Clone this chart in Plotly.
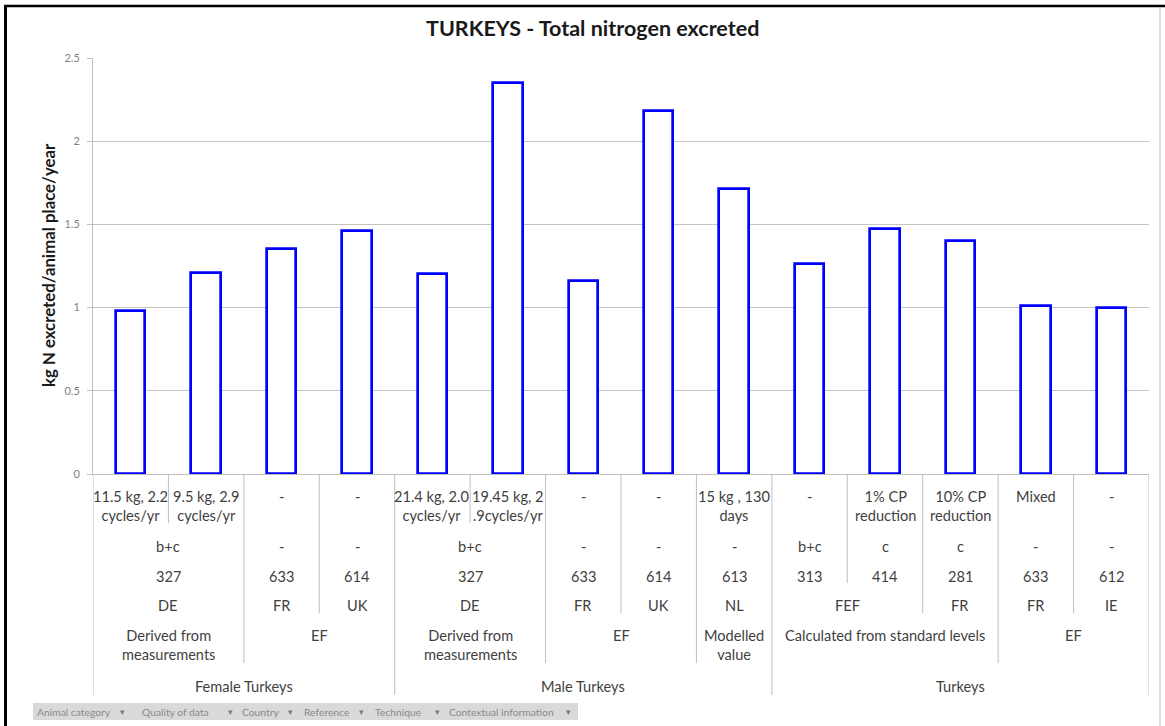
import plotly.graph_objects as go

# ---------------- data ----------------
animal = ["Female Turkeys"] * 4 + ["Male Turkeys"] * 5 + ["Turkeys"] * 5
quality = (["Derived from<br>measurements"] * 2 + ["EF"] * 2 +
           ["Derived from<br>measurements"] * 2 + ["EF"] * 2 +
           ["Modelled<br>value"] + ["Calculated from standard levels"] * 3 + ["EF"] * 2)
country = ["DE", "DE", "FR", "UK", "DE", "DE", "FR", "UK", "NL", "FEF", "FEF", "FR", "FR", "IE"]
reference = ["327", "327", "633", "614", "327", "327", "633", "614", "613", "313", "414", "281", "633", "612"]
technique = ["b+c", "b+c", "-", "-", "b+c", "b+c", "-", "-", "-", "b+c", "c", "c", "-", "-"]
context = ["11.5 kg, 2.2<br>cycles/yr", "9.5 kg, 2.9<br>cycles/yr", "-", "-",
           "21.4 kg, 2.0<br>cycles/yr", "19.45 kg, 2<br>.9cycles/yr", "-", "-",
           "15 kg , 130<br>days", "-", "1% CP<br>reduction", "10% CP<br>reduction", "Mixed", "-"]
values = [0.98, 1.21, 1.35, 1.46, 1.20, 2.35, 1.16, 2.18, 1.71, 1.26, 1.47, 1.40, 1.01, 1.00]

title_text = "TURKEYS - Total nitrogen excreted"
y_title = "kg N excreted/animal place/year"
filter_labels = ["Animal category", "Quality of data", "Country", "Reference", "Technique",
                 "Contextual information"]

# ---------------- layout geometry ----------------
W, H = 1165, 726
ML, MR, MT, MB = 93, 16, 58, 252
PW, PH = W - ML - MR, H - MT - MB


def yp(py):
    return (H - MB - py) / PH


def xp(px):
    return (px - ML) / PW


FONT = "Lato, Carlito, Calibri, sans-serif"
TXT = "#3f3f3f"
LINE = "#bfbfbf"

n = len(values)
xs = list(range(n))

fig = go.Figure()
fig.add_trace(go.Bar(
    x=xs, y=values, width=0.39,
    marker=dict(color="white", line=dict(color="#0000FF", width=2.7)),
    hoverinfo="skip", showlegend=False,
))

# ---------------- multi-level category table ----------------
levels = [animal, quality, country, reference, technique, context]          # outer -> inner
row_bottom = [695, 663, 613, 583, 553, 523]                                 # px
row_text_top = [675.5, 624.5, 594.5, 565.5, 535.5, 485.5]                   # px

annotations = []
shapes = []

for k, lev in enumerate(levels):
    keys = [tuple(levels[j][i] for j in range(k + 1)) for i in range(n)]
    start = 0
    for i in range(1, n + 1):
        if i == n or keys[i] != keys[start]:
            center = (start + i - 1) / 2
            annotations.append(dict(
                x=center, xref="x", y=yp(row_text_top[k]), yref="paper",
                text=lev[start], showarrow=False, xanchor="center", yanchor="top",
                font=dict(family=FONT, size=14.6, color=TXT), align="center",
            ))
            start = i

# boundary lines
for i in range(n - 1):
    depth = None
    for k in range(len(levels)):
        a = tuple(levels[j][i] for j in range(k + 1))
        b = tuple(levels[j][i + 1] for j in range(k + 1))
        if a != b:
            depth = k
            break
    shapes.append(dict(type="line", xref="x", yref="paper", x0=i + 0.5, x1=i + 0.5,
                       y0=0, y1=yp(row_bottom[depth]), line=dict(color=LINE, width=1)))
for edge in (-0.5, n - 0.5):
    shapes.append(dict(type="line", xref="x", yref="paper", x0=edge, x1=edge,
                       y0=0, y1=yp(row_bottom[0]), line=dict(color=LINE, width=1)))

# ---------------- frame ----------------
shapes.append(dict(type="line", xref="paper", yref="paper", x0=xp(5.5), x1=xp(5.5),
                   y0=yp(5), y1=yp(740), line=dict(color="black", width=3)))
shapes.append(dict(type="line", xref="paper", yref="paper", x0=xp(4), x1=xp(1170),
                   y0=yp(6), y1=yp(6), line=dict(color="black", width=2.5)))
shapes.append(dict(type="line", xref="paper", yref="paper", x0=xp(1160), x1=xp(1160),
                   y0=yp(7), y1=yp(740), line=dict(color="#d0d0d0", width=1.5)))

# ---------------- filter buttons bar ----------------
shapes.append(dict(type="rect", xref="paper", yref="paper", x0=xp(33), x1=xp(578),
                   y0=yp(720), y1=yp(703), fillcolor="#d9d9d9", line=dict(width=0), layer="below"))
filter_x = [35, 140, 240, 302, 373, 447]
arrow_x = [122, 230, 290, 361, 437, 568]
for lab, fx, ax in zip(filter_labels, filter_x, arrow_x):
    annotations.append(dict(x=xp(fx), y=yp(711.5), xref="paper", yref="paper", text=lab,
                            showarrow=False, xanchor="left", yanchor="middle",
                            font=dict(family=FONT, size=10.3, color="#8a8a8a")))
    annotations.append(dict(x=xp(ax), y=yp(711.5), xref="paper", yref="paper", text="▾",
                            showarrow=False, xanchor="center", yanchor="middle",
                            font=dict(family="DejaVu Sans", size=9, color="#7a7a7a")))

# ---------------- titles ----------------
annotations.append(dict(x=xp(592), y=yp(28), xref="paper", yref="paper", text=f"<b>{title_text}</b>",
                        showarrow=False, xanchor="center", yanchor="middle",
                        font=dict(family=FONT, size=21.5, color="#1a1a1a")))
annotations.append(dict(x=xp(48), y=yp(265), xref="paper", yref="paper", text=f"<b>{y_title}</b>",
                        showarrow=False, xanchor="center", yanchor="middle", textangle=-90,
                        font=dict(family=FONT, size=16.8, color="#1a1a1a")))

fig.update_layout(
    width=W, height=H,
    margin=dict(l=ML, r=MR, t=MT, b=MB, autoexpand=False),
    paper_bgcolor="white", plot_bgcolor="white",
    bargap=0,
    xaxis=dict(range=[-0.5, n - 0.5], showticklabels=False, showgrid=False, zeroline=False,
               showline=True, linecolor=LINE, linewidth=1, ticks="", fixedrange=True),
    yaxis=dict(range=[0, 2.5], dtick=0.5, tick0=0, showgrid=True, gridcolor="#c4c4c4", gridwidth=1,
               zeroline=False, showline=True, linecolor=LINE, linewidth=1,
               ticks="outside", ticklen=5, tickcolor=LINE, ticklabelstandoff=5,
               tickfont=dict(family=FONT, size=11, color="#7f7f7f"), fixedrange=True),
    annotations=annotations,
    shapes=shapes,
)

fig.write_html(
    "out.html",
    config={"displayModeBar": False},
    post_script="document.body.style.margin='0px';document.body.style.overflow='hidden';",
)
